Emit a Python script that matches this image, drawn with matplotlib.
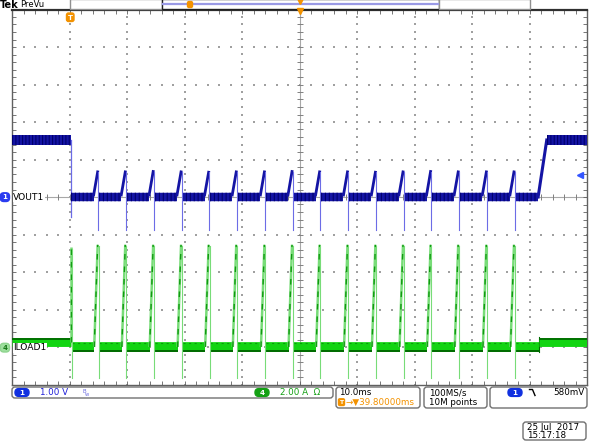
import matplotlib
matplotlib.use("Agg")
import matplotlib.pyplot as plt
from matplotlib.patches import FancyBboxPatch, Rectangle
from matplotlib.ticker import MultipleLocator

plt.rcParams["lines.scale_dashes"] = False

# ---------------- scope settings ----------------
ch1_volts_per_div = 1.00
ch4_amps_per_div = 2.00
ch1_offset_div = 0.0
ch4_offset_div = -4.0
time_per_div_ms = 10.0
trigger_to_center_ms = 39.8
trigger_level_v = 0.58

# ---------------- VOUT1 (channel 1) ----------------
vout_high = 1.52
vout_low = 0.0
vout_trigger_dip = -0.53
spike_times_ms = [4.7, 9.5, 14.35, 19.2, 24.0, 28.8, 33.7, 38.5,
                  43.3, 48.15, 53.0, 57.8, 62.6, 67.4, 72.3, 77.1]
vout_spike_peaks = [0.67, 0.67, 0.68, 0.67, 0.66, 0.67, 0.67, 0.68,
                    0.67, 0.67, 0.66, 0.67, 0.68, 0.67, 0.67, 0.67]
vout_spike_mins = [-0.88, -0.88, -0.88, -0.87, -0.88, -0.88, -0.88, -0.87,
                   -0.88, -0.88, -0.88, -0.88, -0.87, -0.88, -0.88, -0.88]
vout_recovery_start_ms = 81.3
vout_recovery_end_ms = 82.8

# ---------------- ILOAD1 (channel 4) ----------------
iload_idle = 0.27
iload_low = 0.0
iload_pulse_times_ms = [0.0, 4.7, 9.5, 14.35, 19.2, 24.0, 28.8, 33.7, 38.5,
                        43.3, 48.15, 53.0, 57.8, 62.6, 67.4, 72.3, 77.1]
iload_pulse_peaks = [5.33, 5.45, 5.45, 5.45, 5.45, 5.45, 5.45, 5.45, 5.45,
                     5.45, 5.45, 5.45, 5.45, 5.45, 5.45, 5.45, 5.45]
iload_pulse_mins = [-1.65, -1.65, -1.65, -1.65, -1.65, -1.65, -1.65, -1.65, -1.65,
                    -1.65, -1.65, -1.65, -1.65, -1.65, -1.65, -1.65, -1.65]
iload_step_up_ms = 81.45

# ---------------- labels ----------------
ch1_label = "VOUT1"
ch4_label = "ILOAD1"
ch1_scale_text = "1.00 V"
ch4_scale_text = "2.00 A  Ω"
timebase_text = "10.0ms"
trigger_pos_text = "→▼39.80000ms"
rate_text = "100MS/s"
points_text = "10M points"
trig_level_text = "580mV"
date_text = "25 Jul  2017"
time_text = "15:17:18"

# ---------------- colours ----------------
BLUE_BAND = "#1414a4"
BLUE_DARK = "#00006e"
BLUE_LIGHT = "#6c6ce6"
GREEN_BAND = "#12d412"
GREEN_DARK = "#006a00"
GREEN_LIGHT = "#78dc78"
ORANGE = "#f39200"

W, H = 590, 442
fig = plt.figure(figsize=(W / 100, H / 100), dpi=100)
fig.patch.set_facecolor("white")

# plot area in pixels: x 12..587, y 9.5..384.5
ax = fig.add_axes([12 / W, 1 - 384.5 / H, 575 / W, 375 / H])
ax.set_xlim(-5 * time_per_div_ms, 5 * time_per_div_ms)
ax.set_ylim(-5, 5)
ax.set_facecolor("white")


def tx(t):
    return t - trigger_to_center_ms


def y1(v):
    return v / ch1_volts_per_div + ch1_offset_div


def y4(a):
    return a / ch4_amps_per_div + ch4_offset_div


px_div = 1 / 37.5  # one pixel in divisions (vertical)
xmin, xmax = -50, 50

# ---------------- graticule ----------------
gx_list = [-40, -30, -20, -10, 10, 20, 30, 40]
gy_list = [-4, -3, -2, -1, 1, 2, 3, 4]
dots_y = [-5 + 0.2 * j for j in range(51)]
dots_x = [-50 + 2 * j for j in range(51)]
for gx in gx_list:
    ax.scatter([gx] * len(dots_y), dots_y, s=0.9, marker="s", c="#a0a0a0",
               linewidths=0, zorder=1)
for gy in gy_list:
    ax.scatter(dots_x, [gy] * len(dots_x), s=0.9, marker="s", c="#a0a0a0",
               linewidths=0, zorder=1)
ax.axhline(0, color="#a8a8a8", lw=0.8, zorder=1)
ax.axvline(0, color="#a8a8a8", lw=0.8, zorder=1)
ax.plot(dots_x, [0] * len(dots_x), ls="none", marker="|", ms=4, mew=0.7,
        color="#808080", zorder=1)
ax.plot([0] * len(dots_y), dots_y, ls="none", marker="_", ms=4, mew=0.7,
        color="#808080", zorder=1)

ax.xaxis.set_major_locator(MultipleLocator(10))
ax.xaxis.set_minor_locator(MultipleLocator(2))
ax.yaxis.set_major_locator(MultipleLocator(1))
ax.yaxis.set_minor_locator(MultipleLocator(0.2))
ax.tick_params(which="both", direction="in", top=True, right=True,
               labelbottom=False, labelleft=False, length=3, width=0.6,
               color="#606060")
for side, sp in ax.spines.items():
    sp.set_color("#606060")
    sp.set_linewidth(1.0)
ax.spines["top"].set_color("#303030")
ax.spines["top"].set_linewidth(1.6)

# ---------------- ILOAD1 trace ----------------
g_hw = 4.5 * px_div
ax.plot([xmin, tx(0.0)], [y4(iload_idle)] * 2, lw=6.4, color=GREEN_BAND,
        solid_capstyle="butt", zorder=3)
ax.plot([xmin, tx(0.0)], [y4(iload_idle) + 3.4 * px_div] * 2, lw=1.3,
        color=GREEN_DARK, solid_capstyle="butt", zorder=3)
g_starts = [iload_pulse_times_ms[0] + 0.25] + [t + 0.3 for t in iload_pulse_times_ms[1:]]
g_ends = [t - 0.6 for t in iload_pulse_times_ms[1:]] + [iload_step_up_ms]
for s, e in zip(g_starts, g_ends):
    ax.plot([tx(s), tx(e)], [y4(iload_low)] * 2, lw=7.0, color=GREEN_BAND,
            solid_capstyle="butt", zorder=3)
    ax.plot([tx(s), tx(e)], [y4(iload_low) - 3.8 * px_div] * 2, lw=1.4,
            color=GREEN_DARK, solid_capstyle="butt", zorder=3)
    ax.plot([tx(s), tx(e)], [y4(iload_low) + 3.6 * px_div] * 2, lw=0.8,
            color="#0a9a0a", ls=(0, (1.5, 2.5)), zorder=3)
for i, (t, pk, mn) in enumerate(zip(iload_pulse_times_ms, iload_pulse_peaks, iload_pulse_mins)):
    if i == 0:
        xs = [tx(t), tx(t)]
        ys = [y4(iload_idle), y4(pk)]
    else:
        xs = [tx(t - 0.6), tx(t)]
        ys = [y4(iload_low), y4(pk)]
    ax.plot(xs, ys, lw=1.8, color=GREEN_LIGHT, zorder=3, solid_capstyle="butt")
    ax.plot(xs, ys, lw=1.0, color="#109a10", ls=(0, (4, 5)), zorder=3)
    ax.plot([tx(t + 0.15)] * 2, [y4(pk) - 1.5 * px_div, y4(mn)], lw=0.8,
            color=GREEN_LIGHT, zorder=3)
ax.plot([tx(iload_step_up_ms)] * 2, [y4(iload_low) - g_hw, y4(iload_idle) + g_hw],
        lw=0.8, color=GREEN_DARK, zorder=3)
ax.plot([tx(iload_step_up_ms), xmax], [y4(iload_idle)] * 2, lw=6.4,
        color=GREEN_BAND, solid_capstyle="butt", zorder=3)
ax.plot([tx(iload_step_up_ms), xmax], [y4(iload_idle) + 3.4 * px_div] * 2,
        lw=1.3, color=GREEN_DARK, solid_capstyle="butt", zorder=3)

# ---------------- VOUT1 trace ----------------
ax.plot([xmin, tx(0.0)], [y1(vout_high)] * 2, lw=7.2, color=BLUE_BAND,
        solid_capstyle="butt", zorder=4)
ax.plot([xmin, tx(0.0)], [y1(vout_high)] * 2, lw=7.2, color=BLUE_DARK,
        ls=(0, (0.8, 1.6)), solid_capstyle="butt", zorder=4)
ax.plot([tx(0.05)] * 2, [y1(vout_high), y1(vout_trigger_dip)], lw=0.9,
        color=BLUE_LIGHT, zorder=4)
b_starts = [0.1] + [t + 0.25 for t in spike_times_ms]
b_ends = [t - 0.7 for t in spike_times_ms] + [vout_recovery_start_ms]
for s, e in zip(b_starts, b_ends):
    ax.plot([tx(s), tx(e)], [y1(vout_low)] * 2, lw=6.1, color=BLUE_BAND,
            solid_capstyle="butt", zorder=4)
    ax.plot([tx(s), tx(e)], [y1(vout_low)] * 2, lw=6.1, color=BLUE_DARK,
            ls=(0, (0.8, 2.0)), solid_capstyle="butt", zorder=4)
for t, pk, mn in zip(spike_times_ms, vout_spike_peaks, vout_spike_mins):
    ax.plot([tx(t - 0.7), tx(t)], [y1(vout_low) + 2 * px_div, y1(pk)], lw=2.0,
            color=BLUE_BAND, zorder=4)
    ax.plot([tx(t + 0.1)] * 2, [y1(pk), y1(mn)], lw=0.8, color=BLUE_LIGHT, zorder=4)
ax.plot([tx(vout_recovery_start_ms), tx(vout_recovery_end_ms)],
        [y1(vout_low), y1(vout_high)], lw=2.2, color=BLUE_BAND, zorder=4)
ax.plot([tx(vout_recovery_end_ms), xmax], [y1(vout_high)] * 2, lw=7.2,
        color=BLUE_BAND, solid_capstyle="butt", zorder=4)
ax.plot([tx(vout_recovery_end_ms), xmax], [y1(vout_high)] * 2, lw=7.2,
        color=BLUE_DARK, ls=(0, (0.8, 1.6)), solid_capstyle="butt", zorder=4)

# trigger level marker on right edge
ax.plot([xmax - 1.2], [y1(trigger_level_v)], marker="<", ms=4.5, color="#3355ff",
        clip_on=False, zorder=6)

# ---------------- overlay (pixel coordinates) ----------------
ov = fig.add_axes([0, 0, 1, 1], zorder=5)
ov.set_xlim(0, W)
ov.set_ylim(H, 0)
ov.axis("off")
ov.patch.set_alpha(0)

FS = 6.3


def rbox(x0, y0, x1, y1_, ec="#707070", fc="white", r=3, lw=1.0, z=2):
    p = FancyBboxPatch((x0, y0), x1 - x0, y1_ - y0,
                       boxstyle=f"round,pad=0,rounding_size={r}",
                       ec=ec, fc=fc, lw=lw, zorder=z)
    ov.add_patch(p)


# header
ov.text(0, 4.8, "Tek", fontsize=7, fontweight="bold", va="center", ha="left")
ov.text(20, 4.8, "PreVu", fontsize=6, va="center", ha="left")
ov.add_patch(Rectangle((70, -1), 92, 10, ec="#909090", fc="white", lw=1.0))
ov.add_patch(Rectangle((162, -1), 277, 10, ec="#202020", fc="white", lw=1.0))
ov.add_patch(Rectangle((439, -1), 91, 10, ec="#909090", fc="white", lw=1.0))
ov.plot([163, 438], [4.3, 4.3], color="#9a9ae6", lw=1.6)
rbox(187.5, 1.5, 192.5, 7.5, ec=ORANGE, fc=ORANGE, r=1.5, z=3)
ov.plot([300], [0.5], marker="v", ms=4, color=ORANGE)
ov.plot([300], [11], marker="v", ms=4, color=ORANGE, zorder=6)

# trigger T tag
rbox(66.5, 13, 74, 21.5, ec=ORANGE, fc=ORANGE, r=2, z=3)
ov.text(70.3, 17.5, "T", color="white", fontsize=5, fontweight="bold",
        ha="center", va="center", zorder=4)

# channel tags
rbox(0.3, 192.8, 9.5, 201.5, ec="#2a3cf0", fc="#2a3cf0", r=3.5, z=3)
ov.text(4.9, 197.3, "1", color="white", fontsize=5, fontweight="bold",
        ha="center", va="center", zorder=4)
ov.text(13, 197.3, ch1_label, fontsize=6.6, ha="left", va="center", zorder=4,
        bbox=dict(fc="white", ec="none", pad=0.3))
rbox(0.3, 343.3, 9.5, 352.0, ec="#8fd48f", fc="#9ee09e", r=3.5, z=3)
ov.text(4.9, 347.8, "4", color="#1a7a1a", fontsize=5, fontweight="bold",
        ha="center", va="center", zorder=4)
ov.text(13.5, 347.8, ch4_label, fontsize=6.6, ha="left", va="center", zorder=4,
        bbox=dict(fc="white", ec="none", pad=0.3))

# bottom info bar
rbox(12, 387, 333, 398)
rbox(15, 388.6, 29, 396.4, ec="#1030e0", fc="#1030e0", r=3.8, z=3)
ov.text(22, 392.6, "1", color="white", fontsize=5.2, fontweight="bold",
        ha="center", va="center", zorder=4)
ov.text(40, 392.8, ch1_scale_text, color="#2020d8", fontsize=FS, ha="left",
        va="center", zorder=4)
ov.text(82.5, 391.5, "B", color="#6a6ae0", fontsize=3.8, ha="left", va="center", zorder=4)
ov.text(85.0, 394.0, "w", color="#6a6ae0", fontsize=3.8, ha="left", va="center", zorder=4)
rbox(255, 388.6, 269, 396.4, ec="#14a014", fc="#14a014", r=3.8, z=3)
ov.text(262, 392.6, "4", color="white", fontsize=5.2, fontweight="bold",
        ha="center", va="center", zorder=4)
ov.text(280, 392.8, ch4_scale_text, color="#14a014", fontsize=FS, ha="left",
        va="center", zorder=4)

rbox(336, 387, 420, 408)
ov.text(339, 392.6, timebase_text, fontsize=FS, ha="left", va="center", zorder=4)
rbox(338.5, 398.8, 344.5, 405.5, ec=ORANGE, fc=ORANGE, r=1.2, z=3)
ov.text(341.5, 402.3, "T", color="white", fontsize=4.2, fontweight="bold",
        ha="center", va="center", zorder=4)
ov.text(345, 402.4, trigger_pos_text, color=ORANGE, fontsize=FS, ha="left",
        va="center", zorder=4)

rbox(424, 387, 487, 408)
ov.text(429, 392.6, rate_text, fontsize=FS, ha="left", va="center", zorder=4)
ov.text(429, 402.4, points_text, fontsize=FS, ha="left", va="center", zorder=4)

rbox(490, 387, 587, 408)
rbox(508, 388.6, 522, 396.4, ec="#1030e0", fc="#1030e0", r=3.8, z=3)
ov.text(515, 392.6, "1", color="white", fontsize=5.2, fontweight="bold",
        ha="center", va="center", zorder=4)
ov.plot([529.5, 532.5, 535], [389.5, 389.5, 395.5], color="black", lw=1.0, zorder=4)
ov.text(585, 392.6, trig_level_text, fontsize=FS, ha="right", va="center", zorder=4)

rbox(523, 422, 586, 440)
ov.text(527, 427.4, date_text, fontsize=FS, ha="left", va="center", zorder=4)
ov.text(527, 436.0, time_text, fontsize=FS, ha="left", va="center", zorder=4)

fig.savefig("out.png", dpi=100, facecolor="white")
